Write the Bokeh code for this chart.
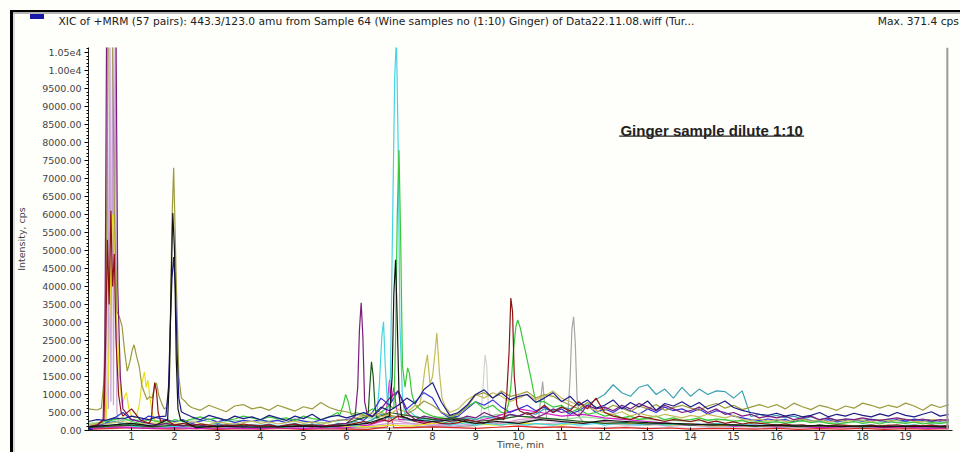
from bokeh.plotting import figure
from bokeh.models import Range1d, FixedTicker, Label, Span
from bokeh.embed import file_html
from bokeh.resources import INLINE

# ---------------- data ----------------
# time grids (min)
GRID_FINE = [round(i * 0.2, 1) for i in range(101)]   # 0.0 .. 20.0, 0.2 step
GRID_COARSE = [round(i * 0.5, 1) for i in range(41)]  # 0.0 .. 20.0, 0.5 step

X_TICKS = list(range(1, 20))
Y_TICKS = [0, 500, 1000, 1500, 2000, 2500, 3000, 3500, 4000, 4500, 5000, 5500,
           6000, 6500, 7000, 7500, 8000, 8500, 9000, 9500, 10000, 10500]
Y_TICK_LABELS = ["0.00", "500.00", "1000.00", "1500.00", "2000.00", "2500.00",
                 "3000.00", "3500.00", "4000.00", "4500.00", "5000.00", "5500.00",
                 "6000.00", "6500.00", "7000.00", "7500.00", "8000.00", "8500.00",
                 "9000.00", "9500.00", "1.00e4", "1.05e4"]
CURSOR_TIME = 19.97
START_MARK_T = [0.0]
START_MARK_V = [0.0]

# --- olive ---
olive_base = [600, 570, 600, 600, 600, 600, 600, 600, 600, 600,
              600, 600, 640, 560, 700, 610, 520, 680, 720, 600,
              650, 560, 700, 620, 540, 660, 600, 780, 640, 560,
              520, 450, 420, 380, 500, 420, 380, 450, 600, 820,
              700, 520, 400, 450, 650, 980, 1050, 900, 1100, 950,
              1000, 1080, 900, 1000, 950, 820, 700, 600, 780, 650,
              560, 700, 620, 520, 680, 600, 720, 560, 640, 700,
              620, 560, 680, 750, 620, 700, 580, 650, 720, 640,
              720, 600, 760, 660, 580, 700, 640, 560, 680, 620,
              760, 700, 620, 700, 640, 760, 680, 560, 720, 640,
              720]
olive_peak_t = [0.3, 0.36, 0.42, 0.46, 0.56, 0.6, 0.66, 0.72, 0.78, 0.84, 0.9, 0.96,
                1.02, 1.06, 1.12, 1.18, 1.24, 1.3, 1.36, 1.42, 1.48, 1.54, 1.58, 1.64,
                1.7, 1.76, 1.82, 1.88, 1.94, 1.98, 2.04, 2.1, 2.16, 2.24, 2.32, 2.4]
olive_peak_v = [620, 1400, 5300, 11000, 11000, 6200, 3300, 3150, 2900, 2200, 1650, 1900,
                2250, 2380, 2050, 1770, 1250, 1050, 860, 940, 900, 1250, 1320, 950,
                760, 600, 650, 1200, 5800, 7300, 4200, 1500, 900, 820, 700, 640]

# --- khaki ---
khaki_base = [150, 200, 180, 220, 250, 200, 180, 220, 200, 180,
              220, 180, 250, 200, 160, 240, 200, 180, 220, 260,
              200, 240, 180, 220, 260, 200, 240, 180, 220, 300,
              280, 350, 400, 500, 380, 450, 600, 500, 700, 900,
              800, 650, 500, 600, 850, 1000, 900, 1050, 950, 800,
              900, 1000, 850, 950, 1100, 900, 800, 700, 650, 550,
              500, 450, 520, 400, 480, 420, 380, 450, 400, 350,
              420, 380, 450, 400, 350, 420, 300, 280, 320, 260,
              300, 250, 280, 320, 260, 300, 240, 280, 260, 300,
              280, 240, 300, 260, 280, 320, 260, 240, 300, 280,
              260]
khaki_peak_t = [7.7, 7.76, 7.82, 7.88, 7.94, 8.0, 8.06, 8.1, 8.16, 8.22, 8.3]
khaki_peak_v = [700, 1100, 1700, 2100, 1300, 1500, 2200, 2710, 1600, 900, 650]

# --- navy ---
navy_base = [250, 300, 280, 350, 320, 400, 350, 300, 380, 450,
             450, 500, 380, 300, 420, 350, 280, 400, 330, 380,
             300, 420, 350, 280, 400, 330, 450, 300, 380, 420,
             350, 420, 500, 380, 650, 550, 700, 900, 750, 1140,
             1330, 800, 420, 500, 700, 1000, 1130, 900, 1050, 850,
             950, 1000, 780, 900, 1050, 800, 950, 700, 850, 620,
             700, 850, 600, 780, 650, 820, 560, 750, 680, 800,
             650, 780, 600, 700, 820, 640, 560, 500, 450, 420,
             480, 400, 450, 380, 420, 500, 380, 450, 400, 480,
             420, 380, 460, 400, 500, 420, 380, 450, 520, 400,
             450]
navy_peak_t = [1.8, 1.86, 1.9, 1.94, 1.98, 2.02, 2.06, 2.1, 2.16, 2.22]
navy_peak_v = [400, 1200, 2800, 4200, 4820, 4000, 2200, 900, 520, 480]

# --- blue ---
blue_base = [100, 120, 200, 350, 500, 300, 250, 400, 350, 300,
             250, 300, 200, 260, 320, 240, 300, 220, 280, 250,
             300, 240, 280, 220, 320, 260, 220, 300, 250, 280,
             300, 350, 280, 500, 900, 700, 1100, 600, 800, 1050,
             900, 500, 350, 400, 600, 800, 700, 850, 650, 500,
             600, 700, 550, 650, 500, 600, 450, 550, 700, 500,
             600, 500, 650, 550, 450, 600, 500, 650, 550, 600,
             500, 600, 450, 550, 500, 400, 350, 300, 280, 320,
             280, 300, 250, 320, 280, 260, 300, 240, 280, 300,
             260, 300, 280, 240, 300, 260, 320, 280, 300, 260,
             300]

# --- teal ---
teal_base = [100, 150, 200, 250, 200, 150, 180, 120, 150, 180,
             150, 200, 180, 120, 160, 200, 140, 180, 120, 160,
             140, 180, 120, 160, 200, 140, 180, 150, 120, 200,
             180, 250, 200, 300, 450, 350, 400, 300, 250, 350,
             300, 250, 200, 280, 350, 300, 400, 350, 300, 450,
             400, 500, 450, 600, 550, 650, 600, 750, 700, 860,
             1000, 1270, 1050, 950, 1200, 1270, 1000, 1150, 900, 1200,
             950, 1150, 1000, 1100, 1080, 900, 1100, 390, 450, 380,
             420, 350, 400, 320, 380, 300, 350, 280, 320, 300,
             280, 320, 260, 300, 280, 250, 300, 260, 240, 280,
             260]

# --- cyan ---
cyan_base = [80, 120, 100, 150, 200, 120, 100, 150, 120, 100,
             120, 100, 140, 90, 120, 150, 100, 130, 90, 120,
             100, 140, 110, 90, 130, 100, 150, 120, 90, 130,
             150, 120, 200, 300, 600, 800, 1000, 600, 400, 300,
             250, 200, 150, 180, 220, 150, 200, 180, 150, 200,
             180, 150, 200, 170, 150, 200, 180, 150, 170, 200,
             150, 180, 200, 160, 150, 180, 200, 150, 170, 190,
             160, 180, 150, 200, 170, 150, 180, 160, 140, 170,
             150, 130, 160, 140, 120, 150, 130, 160, 140, 120,
             140, 160, 130, 150, 120, 140, 160, 130, 150, 140,
             130]
cyan_peak_t = [6.7, 6.76, 6.82, 6.86, 6.9, 6.96, 7.02, 7.08, 7.12, 7.16, 7.2, 7.24, 7.3, 7.36]
cyan_peak_v = [400, 1200, 2600, 3020, 1800, 600, 1500, 6500, 9800, 10900, 8000, 3000, 900, 400]

# --- green ---
green_base = [150, 200, 250, 300, 350, 250, 200, 300, 250, 200,
              300, 250, 320, 380, 300, 350, 280, 320, 400, 350,
              300, 380, 320, 350, 280, 400, 330, 300, 380, 500,
              1000, 500, 450, 600, 500, 700, 800, 900, 700, 500,
              400, 350, 300, 500, 650, 800, 600, 700, 500, 600,
              2500, 1900, 1200, 800, 650, 700, 500, 600, 450, 500,
              400, 450, 350, 400, 300, 350, 400, 300, 350, 280,
              300, 350, 280, 320, 300, 250, 280, 200, 250, 220,
              250, 200, 230, 280, 220, 250, 200, 180, 220, 250,
              200, 230, 180, 250, 220, 200, 240, 180, 220, 200,
              230]
green_peak1_t = [5.84, 5.92, 5.98, 6.04, 6.1, 6.16]
green_peak1_v = [420, 700, 1000, 800, 450, 400]
green_peak2_t = [7.1, 7.14, 7.18, 7.22, 7.26, 7.3, 7.36, 7.42, 7.46, 7.52, 7.6]
green_peak2_v = [600, 2500, 6000, 7790, 5200, 1800, 1200, 1740, 1600, 1000, 700]
green_peak3_t = [9.7, 9.76, 9.82, 9.88, 9.94, 9.98, 10.04, 10.1, 10.16, 10.22, 10.28, 10.34, 10.4]
green_peak3_v = [500, 700, 1200, 2200, 2900, 3070, 2850, 2500, 2200, 1850, 1500, 1140, 800]

# --- purple ---
purple_base = [100, 150, 200, 300, 400, 300, 250, 200, 150, 200,
               150, 120, 180, 150, 100, 160, 120, 140, 100, 150,
               120, 160, 100, 140, 180, 120, 100, 150, 130, 180,
               200, 300, 350, 400, 600, 900, 1100, 500, 300, 400,
               350, 300, 250, 300, 400, 350, 500, 400, 350, 450,
               400, 500, 350, 450, 600, 500, 550, 400, 700, 600,
               650, 550, 700, 600, 750, 650, 550, 700, 600, 500,
               550, 650, 500, 600, 450, 500, 400, 450, 350, 400,
               350, 400, 300, 350, 400, 300, 350, 280, 320, 300,
               350, 300, 280, 320, 350, 300, 280, 320, 260, 300,
               280]
purple_peak1_t = [0.34, 0.38, 0.42, 0.64, 0.68, 0.74, 0.8]
purple_peak1_v = [300, 2000, 11000, 11000, 4000, 1500, 600]
purple_peak2_t = [6.2, 6.26, 6.3, 6.34, 6.38, 6.42, 6.48]
purple_peak2_v = [400, 1200, 2800, 3550, 2600, 800, 450]

# --- maroon ---
maroon_base = [100, 150, 200, 300, 400, 600, 300, 200, 400, 300,
               150, 200, 120, 180, 150, 100, 160, 120, 180, 140,
               120, 160, 100, 140, 180, 120, 160, 100, 150, 120,
               150, 200, 250, 200, 300, 250, 400, 350, 250, 200,
               250, 200, 180, 220, 300, 250, 200, 300, 350, 400,
               600, 450, 500, 700, 500, 650, 550, 800, 600, 900,
               500, 400, 350, 300, 400, 350, 300, 250, 300, 280,
               250, 300, 220, 260, 200, 240, 180, 220, 200, 180,
               150, 180, 140, 160, 120, 150, 130, 160, 140, 120,
               130, 150, 120, 140, 160, 120, 140, 130, 150, 120,
               140]
maroon_peak1_t = [0.36, 0.4, 0.44, 0.48, 0.52, 0.56, 0.6, 0.64, 0.7, 0.76]
maroon_peak1_v = [300, 2500, 5300, 3500, 6100, 4000, 4900, 2500, 1000, 500]
maroon_peak2_t = [1.46, 1.5, 1.54, 1.58, 1.62, 1.68]
maroon_peak2_v = [300, 900, 1330, 1100, 500, 250]
maroon_peak3_t = [9.66, 9.72, 9.78, 9.82, 9.86, 9.9, 9.96, 10.02]
maroon_peak3_v = [300, 900, 2200, 3680, 3300, 1500, 700, 550]

# --- coarse-grid traces ---
yellow_base = [100, 200, 300, 250, 150, 120, 100, 150, 120, 100, 140, 110, 130, 100,
               150, 120, 200, 250, 180, 150, 200, 180, 150, 250, 200, 180, 220, 150,
               180, 130, 150, 120, 140, 110, 130, 150, 120, 140, 110, 130, 120]
yellow_peak_t = [0.4, 0.46, 0.52, 0.56, 0.6, 0.66, 0.72, 0.78, 0.84, 0.88, 0.94, 1.0, 1.1,
                 1.18, 1.24, 1.3, 1.34, 1.38, 1.44, 1.5, 1.56]
yellow_peak_v = [200, 1500, 4500, 6000, 5500, 3000, 1500, 700, 950, 1050, 600, 400, 350,
                 700, 1300, 1630, 1200, 1400, 800, 400, 250]

grey_base = [50, 80, 100, 80, 60, 70, 50, 80, 60, 70, 50, 80, 60, 90, 70, 100, 120, 100,
             150, 200, 250, 200, 300, 250, 200, 180, 150, 200, 150, 120, 100, 120, 90,
             110, 80, 100, 90, 70, 100, 80, 90]
grey_peak1_t = [10.46, 10.52, 10.56, 10.6, 10.66]
grey_peak1_v = [300, 900, 1360, 800, 300]
grey_peak2_t = [11.14, 11.2, 11.24, 11.28, 11.32, 11.36, 11.42]
grey_peak2_v = [300, 1500, 2800, 3160, 2400, 900, 350]

lightgrey_base = [60, 40, 80, 60, 50, 70, 40, 60, 50, 70, 60, 40, 60, 80, 50, 70, 90, 80,
                  120, 200, 150, 100, 120, 90, 80, 100, 70, 90, 60, 80, 70, 50, 60, 80,
                  50, 70, 60, 50, 70, 60, 50]
lightgrey_peak_t = [9.12, 9.18, 9.22, 9.26, 9.3, 9.36]
lightgrey_peak_v = [300, 1300, 2100, 1800, 600, 300]

red_base = [30, 60, 80, 50, 40, 60, 30, 50, 40, 60, 30, 50, 40, 30, 60, 80, 100, 80, 60,
            90, 120, 80, 100, 70, 60, 80, 50, 70, 40, 60, 50, 40, 60, 30, 50, 40, 60, 30,
            50, 40, 50]
red_peak_t = [6.95, 7.0, 7.05, 7.1]
red_peak_v = [100, 500, 300, 80]

lightgreen_base = [200, 250, 300, 280, 250, 300, 220, 280, 250, 300, 260, 220, 300, 350,
                   320, 280, 350, 400, 300, 450, 400, 350, 300, 380, 320, 350, 300, 280,
                   250, 300, 280, 250, 220, 260, 240, 200, 250, 220, 240, 200, 220]

pink_base = [80, 120, 100, 150, 100, 80, 120, 100, 80, 100, 120, 90, 110, 150, 300, 200,
             150, 200, 250, 180, 300, 350, 250, 200, 250, 200, 180, 150, 200, 150, 120,
             150, 100, 120, 90, 100, 120, 80, 100, 90, 100]

lavender_base = [80, 100, 120, 100, 80, 60, 80, 100, 60, 80, 100, 70, 90, 120, 200, 180,
                 150, 120, 200, 250, 200, 180, 220, 250, 200, 150, 180, 120, 150, 100,
                 120, 90, 110, 80, 100, 120, 90, 100, 80, 110, 90]
lavender_peak_t = [0.4, 0.44, 0.46, 0.5, 0.52, 0.56, 0.58, 0.62, 0.66, 0.72]
lavender_peak_v = [300, 11000, 600, 11000, 800, 11000, 700, 11000, 500, 150]

magenta_base = [50, 100, 80, 60, 80, 50, 70, 60, 50, 80, 60, 70, 80, 150, 400, 300, 200,
                350, 250, 400, 600, 500, 400, 450, 350, 300, 250, 200, 150, 180, 120, 150,
                100, 120, 80, 100, 120, 80, 100, 60, 80]
magenta_peak_t = [6.9, 6.96, 7.0, 7.04, 7.1, 7.16, 7.22]
magenta_peak_v = [300, 900, 1400, 800, 1200, 600, 300]

black_base = [100, 150, 200, 120, 100, 80, 120, 100, 90, 110, 120, 100, 140, 200, 350, 300,
              250, 300, 200, 250, 200, 300, 250, 200, 280, 250, 220, 200, 180, 150, 160,
              130, 150, 120, 140, 110, 130, 100, 120, 110, 100]
black_peak1_t = [1.84, 1.88, 1.92, 1.96, 2.0, 2.04, 2.08, 2.14]
black_peak1_v = [300, 1500, 4000, 6040, 5000, 2000, 600, 300]
black_peak2_t = [7.0, 7.06, 7.1, 7.14, 7.18, 7.22, 7.28]
black_peak2_v = [400, 1500, 3800, 4740, 3000, 1000, 400]

darkgreen_base = [80, 120, 150, 100, 150, 120, 100, 150, 120, 100, 150, 120, 200, 300, 500,
                  400, 300, 350, 250, 300, 400, 350, 300, 250, 200, 220, 180, 200, 150,
                  180, 150, 120, 140, 110, 130, 120, 100, 130, 110, 120, 100]
darkgreen_peak_t = [6.5, 6.54, 6.58, 6.62, 6.66, 6.7]
darkgreen_peak_v = [400, 1200, 1910, 1500, 700, 350]


def merge(grid, base, peaks):
    pts = list(zip(grid, base))
    for pt, pv in peaks:
        lo, hi = min(pt), max(pt)
        pts = [(t, v) for (t, v) in pts if not (lo <= t <= hi)]
        pts += list(zip(pt, pv))
    pts.sort()
    return [t for t, _ in pts], [v for _, v in pts]


TRACES = [
    ("#d2d2d2", GRID_COARSE, lightgrey_base, [(lightgrey_peak_t, lightgrey_peak_v)]),
    ("#a6a6a6", GRID_COARSE, grey_base, [(grey_peak1_t, grey_peak1_v), (grey_peak2_t, grey_peak2_v)]),
    ("#e02828", GRID_COARSE, red_base, [(red_peak_t, red_peak_v)]),
    ("#98dc98", GRID_COARSE, lightgreen_base, []),
    ("#e890c8", GRID_COARSE, pink_base, []),
    ("#c8a0d6", GRID_COARSE, lavender_base, [(lavender_peak_t, lavender_peak_v)]),
    ("#d41cc4", GRID_COARSE, magenta_base, [(magenta_peak_t, magenta_peak_v)]),
    ("#e6e020", GRID_COARSE, yellow_base, [(yellow_peak_t, yellow_peak_v)]),
    ("#44d4e4", GRID_FINE, cyan_base, [(cyan_peak_t, cyan_peak_v)]),
    ("#3aa0b4", GRID_FINE, teal_base, []),
    ("#3434d8", GRID_FINE, blue_base, []),
    ("#38c838", GRID_FINE, green_base, [(green_peak1_t, green_peak1_v), (green_peak2_t, green_peak2_v),
                                        (green_peak3_t, green_peak3_v)]),
    ("#1e5a1e", GRID_COARSE, darkgreen_base, [(darkgreen_peak_t, darkgreen_peak_v)]),
    ("#c4bc5c", GRID_FINE, khaki_base, [(khaki_peak_t, khaki_peak_v)]),
    ("#9c9a3e", GRID_FINE, olive_base, [(olive_peak_t, olive_peak_v)]),
    ("#7c1c7c", GRID_FINE, purple_base, [(purple_peak1_t, purple_peak1_v), (purple_peak2_t, purple_peak2_v)]),
    ("#8c1414", GRID_FINE, maroon_base, [(maroon_peak1_t, maroon_peak1_v), (maroon_peak2_t, maroon_peak2_v),
                                         (maroon_peak3_t, maroon_peak3_v)]),
    ("#1c1c88", GRID_FINE, navy_base, [(navy_peak_t, navy_peak_v)]),
    ("#141414", GRID_COARSE, black_base, [(black_peak1_t, black_peak1_v), (black_peak2_t, black_peak2_v)]),
]

TITLE_TEXT = ("XIC of +MRM (57 pairs): 443.3/123.0 amu from Sample 64 (Wine samples no (1:10) "
              "Ginger) of Data22.11.08.wiff (Tur...")
MAX_TEXT = "Max. 371.4 cps"
NOTE_TEXT = "Ginger sample dilute 1:10"

# ---------------- figure ----------------
BG = "#fefefb"
FONT = "DejaVu Sans"
page_bg = ("linear-gradient(#000,#000) 10px 10px / 3px 442px no-repeat, "
           "linear-gradient(#000,#000) 10px 10px / 950px 2px no-repeat, "
           "linear-gradient(#b4b4b4,#b4b4b4) 13px 12px / 947px 2px no-repeat, "
           "linear-gradient(#dcdcdc,#dcdcdc) 13px 14px / 2px 438px no-repeat, "
           "linear-gradient(#1818a8,#1818a8) 30px 14px / 14px 5px no-repeat, "
           + BG)

p = figure(width=960, height=452, x_range=Range1d(0, 20.09), y_range=Range1d(0, 10637),
           output_backend="svg", toolbar_location=None,
           min_border_left=88, min_border_right=8, min_border_top=47, min_border_bottom=21,
           background_fill_color=BG, border_fill_alpha=0)
p.styles = {"background": page_bg}
p.outline_line_color = None
p.xgrid.visible = False
p.ygrid.visible = False

# header line as the plot title (an empty second line lifts it into the header strip)
p.title.text = TITLE_TEXT + "\u00a0" * 54 + MAX_TEXT + "\n\u00a0"
p.title.align = "left"
p.title.vertical_align = "bottom"
p.title.offset = -30
p.title.standoff = 14
p.title.text_font = FONT
p.title.text_font_style = "normal"
p.title.text_font_size = "10.7px"
p.title.text_color = "#222222"

for color, grid, base, peaks in TRACES:
    xs, ys = merge(grid, base, peaks)
    p.line(xs, ys, line_color=color, line_width=1.2)

p.add_layout(Span(location=CURSOR_TIME, dimension="height", line_color="#9a9a9a", line_width=2))
p.scatter(START_MARK_T, START_MARK_V, marker="triangle", angle=-1.5708, size=9,
          fill_color="#1c1cc0", line_color="#1c1cc0")

# axes
yax = p.yaxis[0]
yax.ticker = FixedTicker(ticks=Y_TICKS, minor_ticks=list(range(0, 10601, 100)))
yax.major_label_overrides = {t: s for t, s in zip(Y_TICKS, Y_TICK_LABELS)}
yax.axis_label = "Intensity, cps"
yax.axis_label_text_font = FONT
yax.axis_label_text_font_style = "normal"
yax.axis_label_text_font_size = "9.5px"
yax.axis_label_standoff = 12
yax.major_label_text_font = FONT
yax.major_label_text_font_size = "9.5px"
yax.major_label_standoff = 3
yax.major_tick_out = 4
yax.major_tick_in = 0
yax.minor_tick_out = 2
yax.minor_tick_in = 0
yax.axis_line_color = "#202020"

xax = p.xaxis[0]
xax.ticker = FixedTicker(ticks=X_TICKS, minor_ticks=[])
xax.axis_label = "Time, min"
xax.axis_label_text_font = FONT
xax.axis_label_text_font_style = "normal"
xax.axis_label_text_font_size = "9.5px"
xax.axis_label_standoff = -4
xax.major_label_text_font = FONT
xax.major_label_text_font_size = "10px"
xax.major_label_standoff = 1
xax.major_tick_out = 0
xax.major_tick_in = 3
xax.axis_line_color = "#202020"

# note
note_x, note_y = 14.49, 8338
p.add_layout(Label(x=note_x, y=note_y, text=NOTE_TEXT, text_align="center", text_baseline="middle",
                   text_font="Liberation Sans", text_font_style="bold", text_font_size="15px",
                   text_color="#222222"))
p.segment(x0=[note_x - 2.15], y0=[note_y - 160], x1=[note_x + 2.15], y1=[note_y - 160],
          line_color="#222222", line_width=1.3)

open("out.html", "w").write(file_html(p, INLINE))
